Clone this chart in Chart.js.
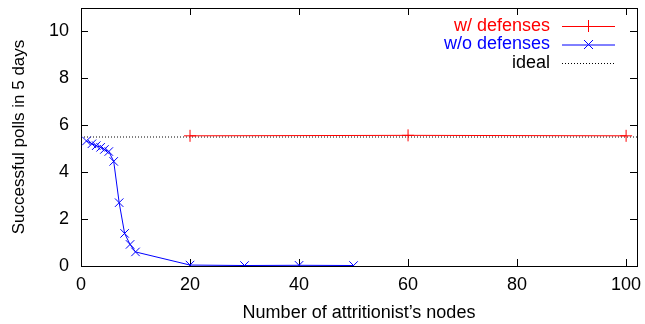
<!DOCTYPE html>
<html>
<head>
<meta charset="utf-8">
<script src="https://cdn.jsdelivr.net/npm/chart.js@4"></script>
<style>
  html, body { margin: 0; padding: 0; background: #fff; }
  #wrap { width: 645px; height: 324px; }
</style>
</head>
<body>
<div id="wrap"><canvas id="chart"></canvas></div>
<script>
const withX = [20, 60, 100];
const withY = [5.55, 5.57, 5.55];

const withoutX = [1, 2, 2.8, 3.6, 4.3, 5.1, 6, 7, 8, 9, 10, 20, 30, 40, 50];
const withoutY = [5.33, 5.21, 5.13, 5.06, 4.97, 4.88, 4.46, 2.7, 1.39, 0.92, 0.6, 0.04, 0.02, 0.03, 0.02];

const idealX = [0, 102];
const idealY = [5.5, 5.5];

const xTicks = [0, 20, 40, 60, 80, 100];
const yTicks = [0, 2, 4, 6, 8, 10];

const pts = (xs, ys) => xs.map((x, i) => ({x: x, y: ys[i]}));
const FONT = "'Liberation Sans', Arial, sans-serif";

// gnuplot style frame with inward ticks on all four sides, under the data
const frame = {
  id: 'frame',
  beforeDatasetsDraw(chart) {
    const {ctx, chartArea: a, scales} = chart;
    ctx.save();
    ctx.strokeStyle = '#000';
    ctx.lineWidth = 1;
    ctx.strokeRect(a.left + 0.5, a.top + 0.5, a.right - a.left, a.bottom - a.top);
    ctx.beginPath();
    xTicks.forEach(v => {
      const px = Math.round(scales.x.getPixelForValue(v)) + 0.5;
      ctx.moveTo(px, a.bottom); ctx.lineTo(px, a.bottom - 7);
      ctx.moveTo(px, a.top); ctx.lineTo(px, a.top + 7);
    });
    yTicks.forEach(v => {
      const py = Math.round(scales.y.getPixelForValue(v)) + 0.5;
      ctx.moveTo(a.left, py); ctx.lineTo(a.left + 7, py);
      ctx.moveTo(a.right, py); ctx.lineTo(a.right - 7, py);
    });
    ctx.stroke();
    ctx.restore();
  }
};

// legend in the top right corner: text right aligned, sample to its right
const keyBox = {
  id: 'keyBox',
  afterDraw(chart) {
    const ctx = chart.ctx;
    const x1 = 562, x2 = 615, textRight = 550;
    let y = 26;
    ctx.save();
    ctx.font = '18px ' + FONT;
    ctx.textAlign = 'right';
    ctx.textBaseline = 'middle';
    chart.data.datasets.forEach(ds => {
      ctx.fillStyle = ds.labelColor;
      ctx.fillText(ds.label, textRight, y);
      ctx.strokeStyle = ds.borderColor;
      ctx.lineWidth = ds.borderWidth;
      ctx.setLineDash(ds.borderDash || []);
      ctx.beginPath();
      ctx.moveTo(x1, y + 0.5); ctx.lineTo(x2, y + 0.5);
      ctx.stroke();
      ctx.setLineDash([]);
      if (ds.pointRadius > 0) {
        const r = ds.pointRadius, cx = (x1 + x2) / 2;
        ctx.beginPath();
        if (ds.pointStyle === 'cross') {
          ctx.moveTo(cx - r, y + 0.5); ctx.lineTo(cx + r, y + 0.5);
          ctx.moveTo(cx, y - r); ctx.lineTo(cx, y + r);
        } else {
          const d = r * 0.75;
          ctx.moveTo(cx - d, y - d); ctx.lineTo(cx + d, y + d);
          ctx.moveTo(cx - d, y + d); ctx.lineTo(cx + d, y - d);
        }
        ctx.stroke();
      }
      y += 18.5;
    });
    ctx.restore();
  }
};

new Chart(document.getElementById('chart'), {
  type: 'line',
  data: {
    datasets: [
      {
        label: 'w/ defenses',
        labelColor: '#ff0000',
        data: pts(withX, withY),
        borderColor: '#ff0000',
        borderWidth: 1,
        pointStyle: 'cross',
        pointRadius: 6,
        pointBorderColor: '#ff0000',
        pointBorderWidth: 1
      },
      {
        label: 'w/o defenses',
        labelColor: '#0000ff',
        data: pts(withoutX, withoutY),
        borderColor: '#0000ff',
        borderWidth: 1,
        pointStyle: 'crossRot',
        pointRadius: 6,
        pointBorderColor: '#0000ff',
        pointBorderWidth: 1
      },
      {
        label: 'ideal',
        labelColor: '#000000',
        data: pts(idealX, idealY),
        borderColor: '#000000',
        borderWidth: 1,
        borderDash: [1, 2],
        pointRadius: 0
      }
    ]
  },
  options: {
    responsive: true,
    maintainAspectRatio: false,
    animation: false,
    layout: { padding: { top: 8, right: 8, left: 0, bottom: 0 } },
    scales: {
      x: {
        type: 'linear',
        min: 0,
        max: 102,
        afterFit: s => { s.height = 58; s.paddingLeft = 0; s.paddingRight = 0; },
        afterBuildTicks: s => { s.ticks = xTicks.map(v => ({value: v})); },
        grid: { display: false, drawTicks: false },
        border: { display: false },
        ticks: { color: '#000', font: { family: FONT, size: 18 }, padding: 8, maxRotation: 0 },
        title: {
          display: true,
          text: 'Number of attritionist’s nodes',
          color: '#000',
          font: { family: FONT, size: 18 },
          padding: { top: 4, bottom: 0 }
        }
      },
      y: {
        min: 0,
        max: 11,
        afterFit: s => { s.width = 81; s.paddingTop = 0; s.paddingBottom = 0; },
        afterBuildTicks: s => { s.ticks = yTicks.map(v => ({value: v})); },
        grid: { display: false, drawTicks: false },
        border: { display: false },
        ticks: { color: '#000', font: { family: FONT, size: 18 }, padding: 12 },
        title: {
          display: true,
          text: 'Successful polls in 5 days',
          color: '#000',
          font: { family: FONT, size: 17 },
          padding: { top: 9, bottom: 0 }
        }
      }
    },
    plugins: {
      legend: { display: false },
      tooltip: { enabled: false }
    }
  },
  plugins: [frame, keyBox]
});
</script>
</body>
</html>
